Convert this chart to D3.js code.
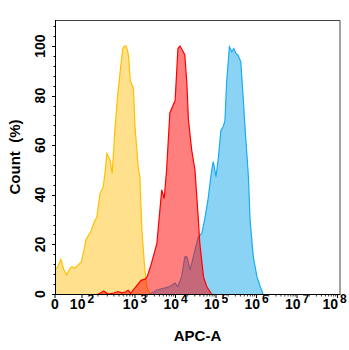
<!DOCTYPE html>
<html><head><meta charset="utf-8">
<script src="https://cdn.jsdelivr.net/npm/d3@7"></script>
<style>
body{margin:0;background:#fff}
text{font-family:"Liberation Sans",Arial,sans-serif;font-weight:bold;fill:#000}
</style>
</head><body>
<svg id="c" width="349" height="350"></svg>
<script>
// x values are log10 of APC-A intensity (1.5 = the "0" position of the display)
const yellowX=[1.5,1.55,1.61,1.66,1.72,1.77,1.81,1.87,1.93,1.99,2.075,2.13,2.18,2.23,2.28,2.34,2.40,2.44,2.47,2.53,2.57,2.62,2.67,2.73,2.77,2.80,2.83,2.86,2.88,2.91,2.97,3.0,3.08,3.12,3.17,3.23,3.29,3.37];
const yellowY=[9.7,11,14,10,7.7,10,11,10.5,11.7,13,21.8,24,25.8,29,31,40.6,43,50,56.7,54,48.6,66,79.6,91.7,99,100,100,98,95.7,86,83,67.5,51,47.3,25.8,12.4,3,0];

const redX=[2.30,2.34,2.41,2.49,2.60,2.68,2.75,2.82,2.87,2.92,2.96,3.05,3.15,3.25,3.30,3.40,3.54,3.66,3.72,3.78,3.86,3.99,4.06,4.11,4.18,4.23,4.28,4.32,4.40,4.48,4.56,4.60,4.69,4.77,4.89];
const redY=[0,0.3,1.2,0,0.4,1,0.5,0.8,1.5,0.3,1.5,3.5,5.5,6,7,12,20.4,42,38.5,50,73,78,99,100,98,96.4,85,70,58,50,31,20.4,7,3,0];

const blueX=[3.37,3.54,3.70,3.86,3.99,4.06,4.15,4.23,4.28,4.32,4.36,4.42,4.48,4.56,4.65,4.73,4.81,4.87,4.93,5.00,5.06,5.12,5.18,5.22,5.26,5.33,5.39,5.44,5.49,5.54,5.61,5.66,5.72,5.80,5.84,5.92,6.01,6.09,6.16];
const blueY=[0,1.6,2.3,3,4.4,3,7,15,15,12.4,9.7,13.7,17.7,23,24.5,31,39,47.3,53.4,47.3,55.4,66,67.5,70,85,99.7,97.7,99,97,96.4,93.7,82,66,47.3,30,15,7,3,0];

const xTickValues=[1.5,2,3,4,5,6,7,8];
const xTickLabels=["0","2","3","4","5","6","7","8"];
const yTickValues=[0,20,40,60,80,100];

const svg=d3.select("#c");
const x=d3.scaleLinear().domain([1.5,2,3,8.06]).range([55,82,135,340]);
const y=d3.scaleLinear().domain([0,110.5]).range([294,20]);

function area(xs,ys){
  const pts=xs.map((v,i)=>[v,ys[i]]);
  return d3.area().x(d=>x(d[0])).y0(y(0)).y1(d=>y(d[1]))(pts);
}
function line(xs,ys){
  const pts=xs.map((v,i)=>[v,ys[i]]);
  return d3.line().x(d=>x(d[0])).y(d=>y(d[1]))(pts);
}

// yellow
svg.append("path").attr("d",area(yellowX,yellowY)).attr("fill","#FFE08C");
svg.append("path").attr("d",line(yellowX,yellowY)).attr("fill","none").attr("stroke","#FFC000").attr("stroke-width",1.2);
// blue
svg.append("path").attr("d",area(blueX,blueY)).attr("fill","#8AD3F4");
svg.append("path").attr("d",line(blueX,blueY)).attr("fill","none").attr("stroke","#1AADEF").attr("stroke-width",1.2);
// red (translucent, on top)
svg.append("path").attr("d",area(redX,redY)).attr("fill","rgba(255,0,0,0.5)");
svg.append("path").attr("d",line(redX,redY)).attr("fill","none").attr("stroke","#FF0000").attr("stroke-width",1.2);

// frame
svg.append("line").attr("x1",55.5).attr("x2",340).attr("y1",20.5).attr("y2",20.5).attr("stroke","#444").attr("stroke-width",1);
svg.append("line").attr("x1",340).attr("x2",340).attr("y1",20.5).attr("y2",294).attr("stroke","#444").attr("stroke-width",1);
svg.append("line").attr("x1",55.5).attr("x2",55.5).attr("y1",20).attr("y2",294.5).attr("stroke","#000").attr("stroke-width",1);
svg.append("line").attr("x1",55).attr("x2",340.5).attr("y1",294.5).attr("y2",294.5).attr("stroke","#000").attr("stroke-width",1);

// y ticks
const yMinor=d3.range(0,111,4).filter(v=>v%20!==0);
svg.selectAll(".ymin").data(yMinor).enter().append("line")
  .attr("x1",53.5).attr("x2",55.5).attr("y1",d=>Math.round(y(d))+0.5).attr("y2",d=>Math.round(y(d))+0.5).attr("stroke","#000");
svg.selectAll(".ymaj").data(yTickValues).enter().append("line")
  .attr("x1",52).attr("x2",55.5).attr("y1",d=>Math.round(y(d))+0.5).attr("y2",d=>Math.round(y(d))+0.5).attr("stroke","#000");
svg.selectAll(".ylab").data(yTickValues).enter().append("text")
  .attr("transform",d=>`translate(45,${y(d)}) rotate(-90)`)
  .attr("text-anchor","middle").attr("font-size",14).text(d=>d);

// x ticks
const xMinor=[];
for(let dcd=2;dcd<8;dcd++){for(let k=2;k<10;k++){xMinor.push(dcd+Math.log10(k));}}
svg.selectAll(".xmin").data(xMinor).enter().append("line")
  .attr("x1",d=>x(d)).attr("x2",d=>x(d)).attr("y1",294.5).attr("y2",296.5).attr("stroke","#000").attr("stroke-width",0.8);
svg.selectAll(".xmaj").data(xTickValues).enter().append("line")
  .attr("x1",d=>x(d)).attr("x2",d=>x(d)).attr("y1",294.5).attr("y2",298).attr("stroke","#000");
const xl=svg.selectAll(".xlab").data(xTickValues).enter().append("text")
  .attr("x",(d,i)=>x(d)+(i===xTickValues.length-1?-3:0)).attr("y",309)
  .attr("text-anchor","middle").attr("font-size",14);
xl.each(function(d,i){
  const t=d3.select(this);
  if(i===0){t.text(xTickLabels[i]);return;}
  t.append("tspan").text("10");
  t.append("tspan").attr("dx",2).attr("dy",-6).attr("font-size",12).text(xTickLabels[i]);
});

// titles
svg.append("text").attr("x",197.5).attr("y",341).attr("text-anchor","middle").attr("font-size",15).text("APC-A");
svg.append("text").attr("transform","translate(19.5,157) rotate(-90)").attr("text-anchor","middle")
  .attr("font-size",15).style("white-space","pre").text("Count  (%)");
</script>
</body></html>
